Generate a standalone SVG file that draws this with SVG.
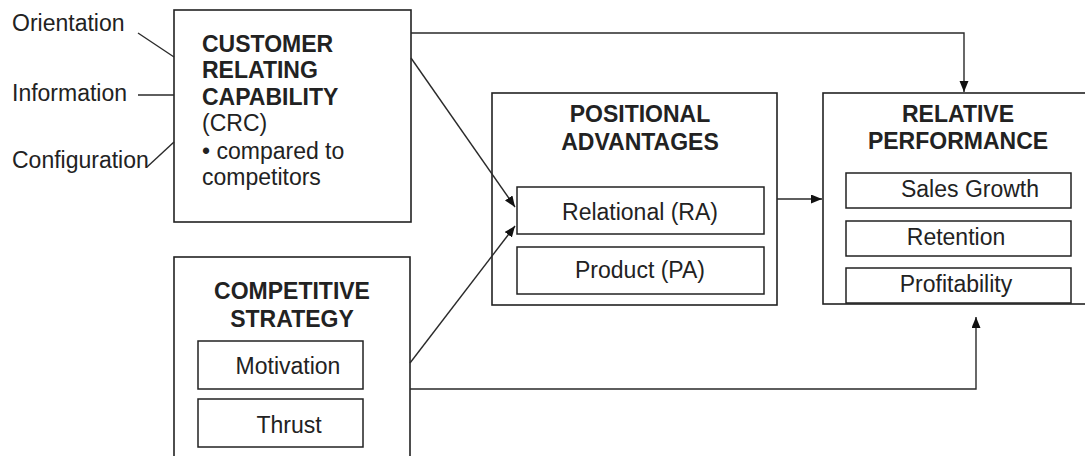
<svg xmlns="http://www.w3.org/2000/svg" width="1085" height="456" viewBox="0 0 1085 456">
<defs>
<style>
.box{fill:#fff;stroke:#222;stroke-width:1.6}
.sub{fill:#fff;stroke:#222;stroke-width:1.5}
.ln{fill:none;stroke:#2a2a2a;stroke-width:1.4}
.t{font-family:"Liberation Sans",Arial,sans-serif;font-size:23px;fill:#222}
.b{font-weight:bold}
.m{text-anchor:middle}
</style>
<marker id="ah" markerUnits="userSpaceOnUse" markerWidth="12" markerHeight="10" refX="11" refY="4.5" orient="auto">
<path d="M0,0 L11,4.5 L0,9 z" fill="#111"/>
</marker>
</defs>
<rect width="1085" height="456" fill="#fff"/>
<g id="inputs">
<text class="t" x="12" y="31">Orientation</text>
<text class="t" x="12" y="101">Information</text>
<text class="t" x="12" y="168">Configuration</text>
</g>
<g id="crc">
<rect class="box" x="174" y="10" width="237" height="212"/>
<text class="t b" x="202" y="52">CUSTOMER</text>
<text class="t b" x="202" y="78">RELATING</text>
<text class="t b" x="202" y="105">CAPABILITY</text>
<text class="t" x="202" y="131">(CRC)</text>
<text class="t" x="202" y="159">• compared to</text>
<text class="t" x="202" y="185">competitors</text>
</g>
<g id="competitive-strategy">
<rect class="box" x="174" y="257" width="236" height="260"/>
<text class="t b m" x="292" y="299">COMPETITIVE</text>
<text class="t b m" x="292" y="327">STRATEGY</text>
<g id="motivation">
<rect class="sub" x="198" y="341" width="165" height="48"/>
<text class="t m" x="288" y="374">Motivation</text>
</g>
<g id="thrust">
<rect class="sub" x="198" y="399" width="165" height="48"/>
<text class="t m" x="289" y="433">Thrust</text>
</g>
</g>
<g id="positional-advantages">
<rect class="box" x="492" y="93" width="285" height="212"/>
<text class="t b m" x="640" y="122">POSITIONAL</text>
<text class="t b m" x="640" y="150">ADVANTAGES</text>
<g id="relational">
<rect class="sub" x="517" y="187" width="247" height="47"/>
<text class="t m" x="640" y="220">Relational (RA)</text>
</g>
<g id="product">
<rect class="sub" x="517" y="247" width="247" height="47"/>
<text class="t m" x="640" y="278">Product (PA)</text>
</g>
</g>
<g id="relative-performance">
<rect class="box" x="823" y="93" width="300" height="211"/>
<text class="t b m" x="958" y="122">RELATIVE</text>
<text class="t b m" x="958" y="149">PERFORMANCE</text>
<g id="sales-growth">
<rect class="sub" x="846" y="173" width="225" height="35"/>
<text class="t m" x="970" y="197">Sales Growth</text>
</g>
<g id="retention">
<rect class="sub" x="846" y="221" width="225" height="35"/>
<text class="t m" x="956" y="245">Retention</text>
</g>
<g id="profitability">
<rect class="sub" x="846" y="268" width="225" height="35"/>
<text class="t m" x="956" y="292">Profitability</text>
</g>
</g>
<g id="connectors">
<line class="ln" x1="138" y1="33" x2="174" y2="57"/>
<line class="ln" x1="138" y1="95" x2="174" y2="95"/>
<line class="ln" x1="147" y1="167" x2="174" y2="142"/>
<polyline class="ln" points="411,33 964,33 964,92" marker-end="url(#ah)"/>
<line class="ln" x1="411" y1="58" x2="515" y2="207" marker-end="url(#ah)"/>
<line class="ln" x1="410" y1="363" x2="515" y2="226" marker-end="url(#ah)"/>
<line class="ln" x1="777" y1="199" x2="822" y2="199" marker-end="url(#ah)"/>
<polyline class="ln" points="410,389 976,389 976,317" marker-end="url(#ah)"/>
</g>
</svg>
